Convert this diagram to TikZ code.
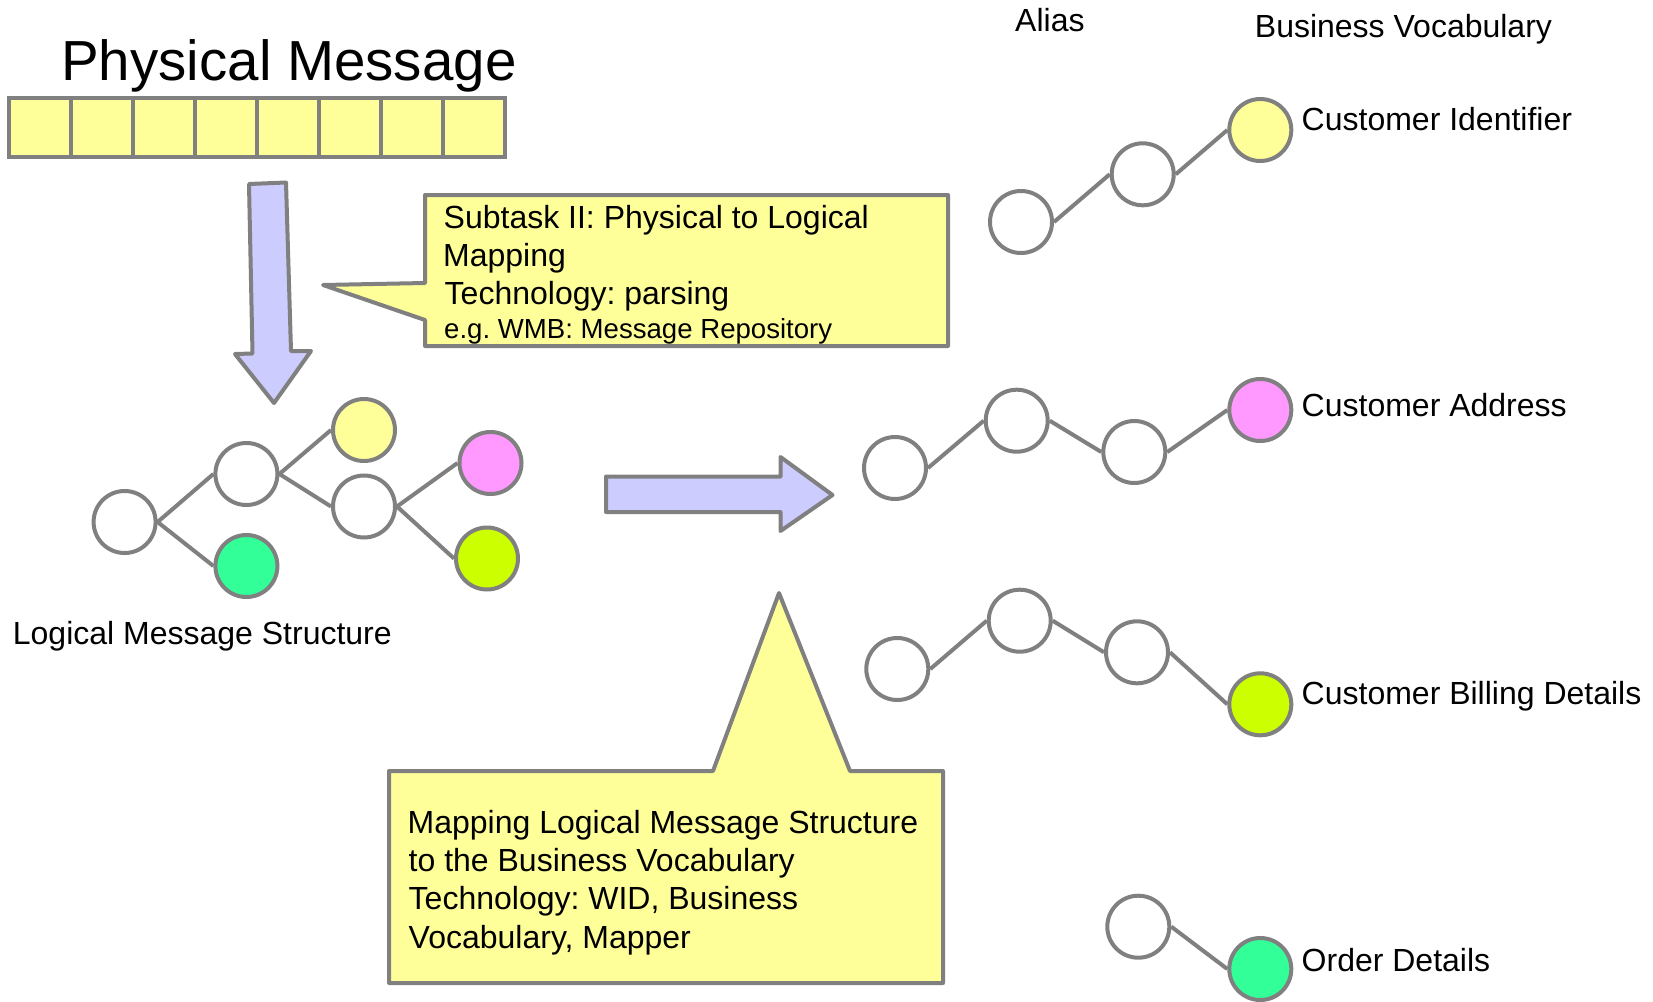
\documentclass[tikz,border=0pt]{standalone}
\usepackage{fontspec}
\setmainfont{Liberation Sans}
\definecolor{strk}{RGB}{128,128,128}
\definecolor{pale}{RGB}{255,255,153}
\definecolor{pinkc}{RGB}{255,153,255}
\definecolor{limec}{RGB}{204,255,0}
\definecolor{greenc}{RGB}{51,255,153}
\definecolor{lav}{RGB}{204,204,255}
\frenchspacing
\begin{document}
\begin{tikzpicture}[x=1pt,y=-1pt,
  dot/.style={circle,draw=strk,line width=4pt,minimum size=62pt,inner sep=0pt,fill=white},
  link/.style={draw=strk,line width=4pt},
  shapeline/.style={draw=strk,line width=4pt,line join=round},
  cell/.style={rectangle,draw=strk,line width=4pt,fill=pale,minimum width=62pt,minimum height=59pt,inner sep=0pt},
  lbl/.style={anchor=base west,inner sep=0pt,font=\fontsize{32}{38}\selectfont},
  smalllbl/.style={anchor=base west,inner sep=0pt,font=\fontsize{27.6}{32}\selectfont},
  titlelbl/.style={anchor=base west,inner sep=0pt,font=\fontsize{56.5}{64}\selectfont}
]
\useasboundingbox[fill=white] (0,0) rectangle (1653,1001);

% title and physical message bar
\node[titlelbl] (title) at (61,80) {Physical Message};
\foreach \i in {0,...,7} {
  \node[cell] (cell\i) at (40+62*\i,127.5) {};
}

% down arrow
\draw[shapeline,fill=lav] (249,184) -- (286,182.5) -- (291,351) -- (311,351) -- (274,403) -- (235,354) -- (252.5,353.5) -- cycle;

% callout 1
\draw[shapeline,fill=pale] (425,195) -- (948,195) -- (948,346) -- (425,346) -- (425,320) -- (323,285) -- (425,283) -- cycle;
\node[lbl] (c1a) at (443.5,228) {Subtask II: Physical to Logical};
\node[lbl] (c1b) at (443,266) {Mapping};
\node[lbl] (c1c) at (444.5,304) {Technology: parsing};
\node[smalllbl] (c1d) at (444,338) {e.g. WMB: Message Repository};

% logical tree
\node[dot] (L0) at (124.6,522) {};
\node[dot] (L1) at (246.4,474) {};
\node[dot,fill=greenc] (Lg) at (246.4,566) {};
\node[dot,fill=pale] (Ly) at (364,430) {};
\node[dot] (L3) at (364,506.5) {};
\node[dot,fill=pinkc] (Lp) at (490.5,463) {};
\node[dot,fill=limec] (Ll) at (487,558.5) {};
\draw[link] (L0.east) -- (L1.west);
\draw[link] (L0.east) -- (Lg.west);
\draw[link] (L1.east) -- (Ly.west);
\draw[link] (L1.east) -- (L3.west);
\draw[link] (L3.east) -- (Lp.west);
\draw[link] (L3.east) -- (Ll.west);
\node[lbl] (lms) at (12.7,644) {Logical Message Structure};

% horizontal arrow
\draw[shapeline,fill=lav] (606,476.5) -- (780.5,476.5) -- (780.5,457) -- (832.5,495) -- (780.5,531) -- (780.5,512) -- (606,512) -- cycle;

% callout 2
\draw[shapeline,fill=pale] (389,771) -- (713,771) -- (779,593) -- (850,771) -- (943,771) -- (943,983) -- (389,983) -- cycle;
\node[lbl] (c2a) at (407.5,833) {Mapping Logical Message Structure};
\node[lbl] (c2b) at (408.5,871) {to the Business Vocabulary};
\node[lbl] (c2c) at (408.5,909) {Technology: WID, Business};
\node[lbl] (c2d) at (408.5,948) {Vocabulary, Mapper};

% headers
\node[lbl] (alias) at (1015,31) {Alias};
\node[lbl] (bv) at (1254.7,37) {Business Vocabulary};

% row 1
\node[dot] (A1) at (1021,222) {};
\node[dot] (A2) at (1142.7,174.3) {};
\node[dot,fill=pale] (AY) at (1260.3,130) {};
\draw[link] (A1.east) -- (A2.west);
\draw[link] (A2.east) -- (AY.west);
\node[lbl] (tA) at (1301.5,130.5) {Customer Identifier};

% row 2
\node[dot] (B1) at (895,468) {};
\node[dot] (B2) at (1016.7,420.7) {};
\node[dot] (B3) at (1134.3,452) {};
\node[dot,fill=pinkc] (BP) at (1260.3,410) {};
\draw[link] (B1.east) -- (B2.west);
\draw[link] (B2.east) -- (B3.west);
\draw[link] (B3.east) -- (BP.west);
\node[lbl] (tB) at (1301.5,416.5) {Customer Address};

% row 3
\node[dot] (C1) at (897.3,669) {};
\node[dot] (C2) at (1019.7,620.7) {};
\node[dot] (C3) at (1137,652.3) {};
\node[dot,fill=limec] (CL) at (1260.3,704.3) {};
\draw[link] (C1.east) -- (C2.west);
\draw[link] (C2.east) -- (C3.west);
\draw[link] (C3.east) -- (CL.west);
\node[lbl] (tC) at (1301.5,704) {Customer Billing Details};

% row 4
\node[dot] (D1) at (1138.3,926.7) {};
\node[dot,fill=greenc] (DG) at (1260.3,969) {};
\draw[link] (D1.east) -- (DG.west);
\node[lbl] (tD) at (1301.5,971) {Order Details};
\end{tikzpicture}
\end{document}
